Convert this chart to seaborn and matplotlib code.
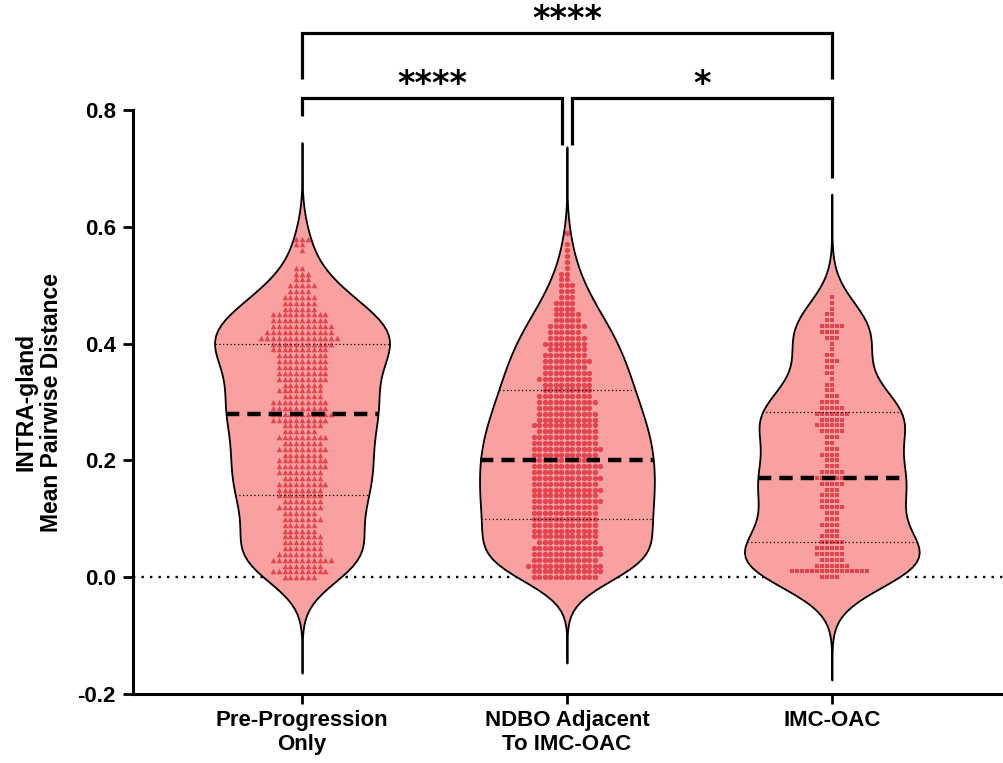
import numpy as np
import pandas as pd
import matplotlib
matplotlib.use("Agg")
import matplotlib.pyplot as plt
import seaborn as sns

# ---- data -------------------------------------------------------------
categories = ["Pre-Progression\nOnly", "NDBO Adjacent\nTo IMC-OAC", "IMC-OAC"]

# distance values (rounded to 0.01) and how many glands fall on each value
value_levels = [
    0.00, 0.01, 0.02, 0.03, 0.04, 0.05, 0.06, 0.07, 0.08, 0.09,
    0.10, 0.11, 0.12, 0.13, 0.14, 0.15, 0.16, 0.17, 0.18, 0.19,
    0.20, 0.21, 0.22, 0.23, 0.24, 0.25, 0.26, 0.27, 0.28, 0.29,
    0.30, 0.31, 0.32, 0.33, 0.34, 0.35, 0.36, 0.37, 0.38, 0.39,
    0.40, 0.41, 0.42, 0.43, 0.44, 0.45, 0.46, 0.47, 0.48, 0.49,
    0.50, 0.51, 0.52, 0.53, 0.54, 0.55, 0.56, 0.57, 0.58, 0.59,
]
pre_counts = [
    6, 10, 7, 11, 8, 7, 7, 7, 6, 6,
    7, 6, 8, 7, 8, 8, 9, 7, 8, 9,
    9, 7, 9, 7, 9, 6, 7, 10, 11, 10,
    10, 7, 8, 7, 9, 9, 9, 9, 9, 10,
    11, 14, 12, 11, 10, 10, 6, 6, 6, 4,
    5, 3, 3, 2, 0, 0, 1, 2, 3, 0,
]
ndbo_counts = [
    12, 13, 14, 12, 13, 13, 11, 12, 12, 12,
    12, 12, 12, 13, 12, 13, 12, 13, 12, 13,
    12, 12, 13, 12, 12, 11, 12, 11, 11, 10,
    11, 10, 9, 9, 10, 9, 8, 9, 8, 7,
    8, 7, 6, 7, 5, 5, 4, 4, 3, 3,
    3, 2, 2, 1, 1, 1, 1, 1, 0, 1,
]
imc_counts = [
    4, 16, 7, 5, 6, 6, 5, 4, 3, 4,
    3, 3, 5, 4, 4, 3, 5, 8, 5, 3,
    3, 4, 3, 2, 3, 5, 6, 5, 7, 5,
    4, 3, 2, 2, 1, 2, 2, 3, 2, 1,
    1, 3, 4, 5, 2, 2, 1, 1, 1, 0,
    0, 0, 0, 0, 0, 0, 0, 0, 0, 0,
]
group_counts = [pre_counts, ndbo_counts, imc_counts]

y_ticks = [-0.2, 0.0, 0.2, 0.4, 0.6, 0.8]
y_tick_labels = ["-0.2", "0.0", "0.2", "0.4", "0.6", "0.8"]

# (group a, group b, significance label)
comparisons = [(0, 1, "****"), (1, 2, "*"), (0, 2, "****")]

# ---- styling ----------------------------------------------------------
sns.set_style("ticks")
plt.rcParams["font.family"] = ["Liberation Sans", "DejaVu Sans"]
plt.rcParams["font.weight"] = "bold"
plt.rcParams["text.color"] = "black"
plt.rcParams["axes.labelcolor"] = "black"
plt.rcParams["xtick.color"] = "black"
plt.rcParams["ytick.color"] = "black"

violin_fill = "#F9A1A1"
point_color = "#E5434E"
markers = ["^", "o", "s"]
marker_sizes = [4.0, 3.8, 3.4]

frames = []
for cat, counts in zip(categories, group_counts):
    vals = np.repeat(value_levels, counts)
    frames.append(pd.DataFrame({"group": cat, "value": vals}))
df = pd.concat(frames, ignore_index=True)

fig = plt.figure(figsize=(10.04, 7.63), dpi=100)
ax = fig.add_axes([0.1325, 0.0904, 0.8675, 0.7654])

sns.violinplot(
    data=df, x="group", y="value", order=categories,
    color=violin_fill, saturation=1, inner=None,
    cut=4.1, bw_adjust=0.9, density_norm="width", width=0.66,
    linewidth=1.3, linecolor="black", ax=ax,
)
violins = list(ax.collections)
for v in violins:
    v.set_zorder(2)

for i, cat in enumerate(categories):
    sns.swarmplot(
        data=df[df["group"] == cat], x="group", y="value", order=categories,
        marker=markers[i], size=marker_sizes[i], color=point_color,
        linewidth=0, ax=ax, zorder=3,
    )


def span_at(poly, y):
    """Horizontal extent of a violin outline at height y."""
    v = poly.get_paths()[0].vertices
    xs = []
    for (x0, y0), (x1, y1) in zip(v[:-1], v[1:]):
        if y0 != y1 and (y0 - y) * (y1 - y) <= 0:
            xs.append(x0 + (y - y0) * (x1 - x0) / (y1 - y0))
    return min(xs), max(xs)


# median (bold dashed) and quartiles (fine dotted) across each violin
for cat, poly in zip(categories, violins):
    vals = df.loc[df["group"] == cat, "value"].to_numpy()
    q1, med, q3 = np.percentile(vals, [25, 50, 75])
    for q in (q1, q3):
        x0, x1 = span_at(poly, q)
        ax.plot([x0, x1], [q, q], color="black", lw=0.9,
                linestyle=(0, (1, 2)), zorder=4)
    x0, x1 = span_at(poly, med)
    ax.plot([x0, x1], [med, med], color="black", lw=3.2,
            linestyle=(0, (3, 1.8)), zorder=4, dash_capstyle="butt")

# zero reference line behind the violins
ax.axhline(0, color="black", lw=1.7, linestyle=(0, (1, 2.6)), zorder=1)

# axes
ax.set_xlim(-0.638, 2.65)
ax.set_ylim(-0.2, 0.8)
ax.set_yticks(y_ticks)
ax.set_yticklabels(y_tick_labels)
ax.set_xticks(range(len(categories)))
ax.set_xticklabels(categories)
ax.set_xlabel("")
ax.set_ylabel("INTRA-gland\nMean Pairwise Distance", fontsize=16.5,
              fontweight="bold", labelpad=10, linespacing=1.15)
for lab in ax.get_xticklabels() + ax.get_yticklabels():
    lab.set_fontweight("bold")
ax.tick_params(axis="both", labelsize=16, width=2, length=7.5, pad=3)
ax.tick_params(axis="y", pad=5)
ax.tick_params(axis="x", pad=4)
sns.despine(ax=ax)
for side in ("left", "bottom"):
    ax.spines[side].set_linewidth(2.2)
    ax.spines[side].set_color("black")

# significance brackets (drawn above the plotting area)
bracket_lw = 2.3
low_y, high_y = 0.82, 0.932
gap = 0.019


def bracket(xa, xb, y, ya, yb, label, label_y):
    ax.plot([xa, xa, xb, xb], [ya, y, y, yb], color="black", lw=bracket_lw,
            clip_on=False, solid_capstyle="butt", solid_joinstyle="miter",
            zorder=5)
    ax.text((xa + xb) / 2, label_y, label, ha="center", va="baseline",
            fontsize=24, fontweight="bold", family="DejaVu Sans",
            clip_on=False)


bracket(0, 1 - gap, low_y, 0.79, 0.74, comparisons[0][2], 0.828)
bracket(1 + gap, 2, low_y, 0.74, 0.683, comparisons[1][2], 0.828)
bracket(0, 2, high_y, 0.853, 0.853, comparisons[2][2], 0.938)

fig.savefig("out.png", dpi=100)
